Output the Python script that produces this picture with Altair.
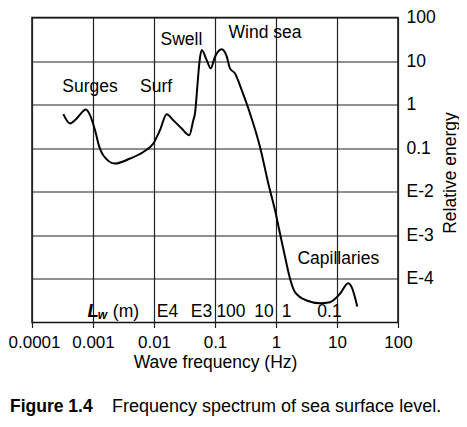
import altair as alt
import pandas as pd

# Spectrum curve
freq = [3.26e-4, 4.2e-4, 5.41e-4, 7.67e-4, 8.93e-4, 1.08e-3, 1.27e-3, 1.47e-3,
        2.30e-3, 4.05e-3, 6.68e-3, 9.75e-3, 0.01253, 0.01614, 0.0207, 0.0284,
        0.0379, 0.0441, 0.047, 0.0513, 0.0553, 0.0605, 0.0731, 0.0851, 0.1,
        0.129, 0.156, 0.176, 0.213, 0.274, 0.375, 0.547, 0.748, 0.964, 1.164,
        1.41, 1.70, 2.05, 3.18, 5.26, 7.67, 11.2, 15.3, 17.4, 21.5]
energy = [0.605, 0.37, 0.482, 0.776, 0.574, 0.259, 0.107, 0.069,
          0.0445, 0.058, 0.082, 0.128, 0.259, 0.605, 0.44, 0.284,
          0.199, 0.44, 0.628, 2.57, 8.85, 17.9, 10.5, 6.8, 12.6,
          18.6, 12.6, 6.8, 5.2, 2.15, 0.628, 0.107, 0.0155, 3.76e-3, 1.09e-3,
          3.17e-4, 1.01e-4, 4.98e-5, 3.2e-5, 2.78e-5, 2.93e-5, 4.57e-5, 8.0e-5, 6.5e-5, 2.33e-5]

# Region annotations
ann_labels = ["Surges", "Surf", "Swell", "Wind sea", "Capillaries"]
ann_freq = [8.93e-4, 0.0108, 0.0281, 0.66, 10.5]
ann_energy = [1.94, 1.94, 23.4, 33.3, 2.23e-4]

# Wavelength scale labels (L_w in m)
lw_labels = ["E4", "E3", "100", "10", "1", "0.1"]
lw_freq = [0.01663, 0.0601, 0.1828, 0.635, 1.486, 7.53]
lw_energy = [1.336e-5] * 6

x_ticks = [1e-4, 1e-3, 1e-2, 1e-1, 1, 10, 100]
y_ticks = [1e-4, 1e-3, 1e-2, 1e-1, 1, 10, 100]

FONT = "Liberation Sans"
FS = 17.5

curve = pd.DataFrame({"f": freq, "e": energy})
ann = pd.DataFrame({"f": ann_freq, "e": ann_energy, "t": ann_labels})
lw = pd.DataFrame({"f": lw_freq, "e": lw_energy, "t": lw_labels})
lw_sym = pd.DataFrame({"f": [1.01e-3], "e": [1.336e-5], "t": ["L"]})
lw_sub = pd.DataFrame({"f": [1.43e-3], "e": [1.20e-5], "t": ["w"]})
lw_unit = pd.DataFrame({"f": [3.47e-3], "e": [1.336e-5], "t": ["(m)"]})
one = pd.DataFrame({"a": [0]})

xscale = alt.Scale(type="log", domain=[1e-4, 100], nice=False)
yscale = alt.Scale(type="log", domain=[1e-5, 100], nice=False)

xaxis = alt.Axis(values=x_ticks, format="~g", title="Wave frequency (Hz)",
                 grid=True, gridColor="#222", gridWidth=1.2, domain=False,
                 ticks=True, tickSize=5, tickColor="#222", tickWidth=1.2,
                 labelFont=FONT, labelFontSize=17, labelColor="black", labelPadding=7,
                 labelOffset={"condition": {"test": "datum.value < 0.0002", "value": 2}, "value": 0},
                 labelFlush=False, labelOverlap=False,
                 titleFont=FONT, titleFontSize=FS, titleFontWeight="normal", titleColor="black",
                 titleY=45, titleBaseline="alphabetic")
yaxis = alt.Axis(values=y_ticks, orient="right", title="Relative energy",
                 labelExpr="datum.value >= 0.1 ? format(datum.value, '~g') : 'E-' + round(-log(datum.value)/LN10)",
                 grid=True, gridColor="#222", gridWidth=1.2, domain=False,
                 ticks=False, labelPadding=8, labelAlign="left",
                 labelFont=FONT, labelFontSize=FS, labelColor="black",
                 labelFlush=False, labelOverlap=False,
                 titleFont=FONT, titleFontSize=FS, titleFontWeight="normal", titleColor="black",
                 titleAngle=270, titleX=57, titleY=155, titleBaseline="alphabetic", titleAlign="center")

line = alt.Chart(curve).mark_line(color="black", strokeWidth=2, interpolate="monotone").encode(
    x=alt.X("f:Q", scale=xscale, axis=xaxis),
    y=alt.Y("e:Q", scale=yscale, axis=yaxis),
)

def txt(df, **kw):
    return alt.Chart(df).mark_text(font=FONT, color="black", baseline="alphabetic", **kw).encode(
        x=alt.X("f:Q", scale=xscale), y=alt.Y("e:Q", scale=yscale), text="t:N")

ann_l = txt(ann, fontSize=FS)
lw_l = txt(lw, fontSize=FS)
lw_s = txt(lw_sym, fontSize=FS + 1, fontWeight="bold", fontStyle="italic")
lw_w = txt(lw_sub, fontSize=12, fontWeight="bold", fontStyle="italic")
lw_u = txt(lw_unit, fontSize=FS)

cap1 = alt.Chart(one).mark_text(font=FONT, fontSize=FS, fontWeight="bold", align="left",
                                baseline="alphabetic", color="black", text="Figure 1.4").encode(
    x=alt.value(-22), y=alt.value(394.5))
cap2 = alt.Chart(one).mark_text(font=FONT, fontSize=18, align="left",
                                baseline="alphabetic", color="black",
                                text="Frequency spectrum of sea surface level.").encode(
    x=alt.value(80), y=alt.value(394.5))

chart = alt.layer(line, ann_l, lw_l, lw_s, lw_w, lw_u, cap1, cap2).properties(
    width=366, height=305,
    autosize=alt.AutoSizeParams(type="none"),
    padding={"left": 24, "top": 9.5, "right": 61, "bottom": 96},
    background="white",
).configure_view(stroke="#111", strokeWidth=1.5)

chart.save("out.html", embed_options={"renderer": "svg", "actions": False})
